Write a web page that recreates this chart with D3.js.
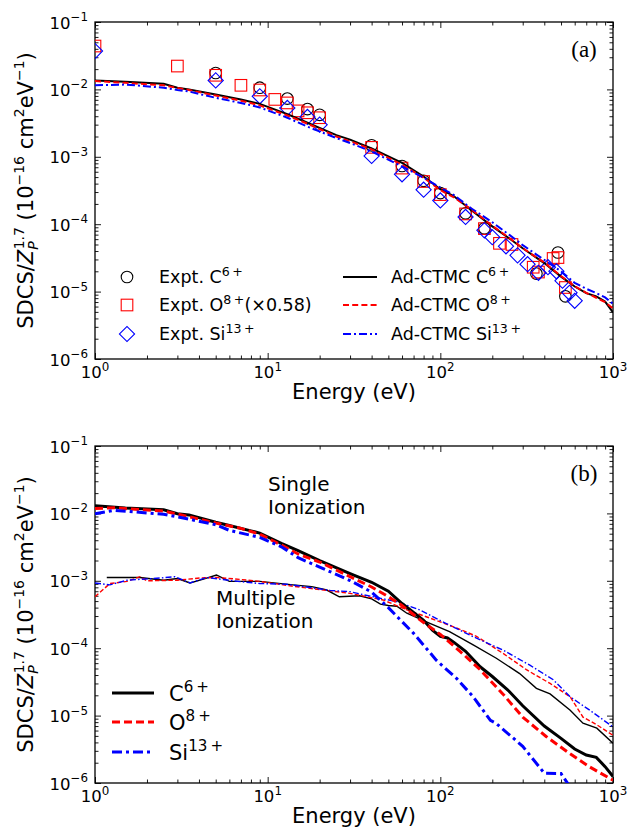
<!DOCTYPE html>
<html>
<head>
<meta charset="utf-8"/>
<title>SDCS</title>
<style>
    body { margin: 0; background: #fff; }
    svg { display: block; font-family: 'DejaVu Sans', sans-serif; }
    .frame { fill: none; stroke: #000; stroke-width: 1.3px; }
    .tick line { stroke: #000; stroke-width: 0.9px; }
    .tick text { display: none; }
    .domain { display: none; }
</style>
<script src="https://cdnjs.cloudflare.com/ajax/libs/d3/7.8.5/d3.min.js"></script>
</head>
<body>
<svg id="chart" width="629" height="834"></svg>
<script>

// ---- experimental points, panel (a) ----
const exptC_E = [5, 9, 13, 17, 20, 40, 60, 80, 100, 140, 180, 360, 480, 530];
const exptC_V = [0.0175, 0.0106, 0.0073, 0.0051, 0.0042, 1.48e-3, 7.3e-4, 4.4e-4, 2.9e-4, 1.45e-4, 8.7e-5, 1.85e-5, 3.8e-5, 8.5e-6];

const exptO_E = [1, 3, 5, 7, 9, 11, 13, 15, 17, 20, 40, 60, 80, 100, 140, 180, 220, 260, 345, 370, 450, 480, 530];
const exptO_V = [0.044, 0.0222, 0.0162, 0.0115, 0.0098, 0.0071, 0.0063, 0.0048, 0.0045, 0.0038, 1.38e-3, 6.8e-4, 4.3e-4, 2.75e-4, 1.42e-4, 8.6e-5, 5.2e-5, 5.0e-5, 2.3e-5, 1.95e-5, 3.1e-5, 3.2e-5, 1.15e-5];

const exptSi_E = [1, 5, 9, 13, 17, 20, 40, 60, 80, 100, 140, 180, 200, 240, 280, 320, 370, 420, 470, 510, 560, 600];
const exptSi_V = [0.037, 0.0136, 0.0079, 0.0053, 0.0039, 0.0030, 1.03e-3, 5.5e-4, 3.25e-4, 2.25e-4, 1.28e-4, 8.1e-5, 6.4e-5, 4.7e-5, 3.45e-5, 2.55e-5, 1.9e-5, 2.3e-5, 2.0e-5, 1.45e-5, 9.6e-6, 7.3e-6];

// ---- Ad-CTMC total, panel (a) ----
const ctmcA_E = [1, 1.5, 2.5, 3, 3.5, 5, 7, 9, 13, 17, 25, 30, 40, 60, 80, 100, 120, 150, 200, 250, 300, 400, 500, 600, 700, 800, 900, 1000];
const ctmcA_C = [0.0136, 0.0130, 0.0121, 0.0106, 0.0100, 0.0084, 0.0071, 0.0061, 0.0043, 0.0032, 0.0021, 0.0018, 1.33e-3, 8.1e-4, 5.1e-4, 3.3e-4, 2.6e-4, 1.64e-4, 9.3e-5, 6.2e-5, 4.4e-5, 2.65e-5, 1.67e-5, 1.19e-5, 9.5e-6, 8.5e-6, 7.1e-6, 4.9e-6];
const ctmcA_O = [0.0133, 0.0125, 0.0115, 0.0105, 0.0098, 0.0081, 0.0068, 0.0058, 0.0041, 0.0031, 0.0020, 0.0017, 1.29e-3, 7.6e-4, 4.9e-4, 3.2e-4, 2.5e-4, 1.68e-4, 9.5e-5, 6.3e-5, 4.4e-5, 2.7e-5, 1.7e-5, 1.2e-5, 9.6e-6, 8.1e-6, 7.0e-6, 5.6e-6];
const ctmcA_Si = [0.0115, 0.0118, 0.0106, 0.0098, 0.0093, 0.0075, 0.0063, 0.0054, 0.0038, 0.0028, 0.0019, 0.0016, 1.2e-3, 7.2e-4, 4.9e-4, 3.5e-4, 2.7e-4, 1.74e-4, 1.07e-4, 7.0e-5, 4.9e-5, 2.95e-5, 2.0e-5, 1.35e-5, 1.1e-5, 9.5e-6, 8.2e-6, 6.6e-6];

// ---- panel (b): single ionization ----
const singleC_E = [1, 1.5, 2.5, 3, 3.5, 5, 6, 8, 9, 12, 15, 20, 30, 40, 50, 60, 70, 80, 90, 100, 110, 120, 140, 170, 200, 250, 300, 400, 500, 600, 700, 800, 900, 1000];
const singleC_V = [0.0130, 0.0120, 0.0113, 0.0099, 0.0095, 0.0074, 0.0066, 0.0055, 0.0051, 0.0036, 0.0028, 0.0020, 1.28e-3, 9.5e-4, 7.0e-4, 4.6e-4, 3.4e-4, 2.6e-4, 1.85e-4, 1.5e-4, 1.42e-4, 1.22e-4, 9.0e-5, 5.3e-5, 3.8e-5, 2.3e-5, 1.4e-5, 7.0e-6, 4.6e-6, 3.2e-6, 2.6e-6, 2.4e-6, 1.75e-6, 1.25e-6];

const singleO_E = [1, 1.3, 2.5, 3, 5, 7, 9, 12, 15, 20, 30, 40, 50, 60, 80, 100, 130, 170, 230, 300, 410, 560, 730, 1000];
const singleO_V = [0.0118, 0.0121, 0.0108, 0.0098, 0.0072, 0.0060, 0.0049, 0.0034, 0.0025, 0.0019, 1.15e-3, 8.1e-4, 5.8e-4, 4.3e-4, 2.4e-4, 1.6e-4, 9.0e-5, 4.8e-5, 2.1e-5, 9.5e-6, 4.9e-6, 2.75e-6, 1.74e-6, 1.1e-6];

const singleSi_E = [1, 1.3, 2.5, 3, 5, 6, 9, 12, 15, 20, 30, 40, 50, 70, 95, 125, 155, 195, 210, 300, 400, 500, 560, 600];
const singleSi_V = [0.0099, 0.0111, 0.0097, 0.0089, 0.0068, 0.0056, 0.0044, 0.0032, 0.0022, 0.0016, 1.01e-3, 6.8e-4, 4.0e-4, 1.66e-4, 6.6e-5, 3.5e-5, 1.9e-5, 8.5e-6, 7.7e-6, 3.5e-6, 1.4e-6, 1.38e-6, 9.0e-7, 7e-7];

// ---- panel (b): multiple ionization ----
const multiC_E = [1.17, 1.82, 2.5, 3, 3.55, 4.2, 5.05, 6, 9, 14, 18, 22, 26, 34, 40, 45, 50, 56, 64, 87, 113, 155, 211, 288, 360, 432, 565, 670, 806, 1000];
const multiC_V = [1.12e-3, 1.12e-3, 1.02e-3, 1.08e-3, 9.3e-4, 1.05e-3, 1.22e-3, 9.8e-4, 9.8e-4, 8.7e-4, 8.2e-4, 7.3e-4, 5.8e-4, 6.0e-4, 5.4e-4, 4.5e-4, 4.3e-4, 4.2e-4, 3.3e-4, 2.34e-4, 1.76e-4, 1.12e-4, 7.1e-5, 4.2e-5, 2.54e-5, 2.1e-5, 1.2e-5, 7.7e-6, 6.5e-6, 3.9e-6];

const multiO_E = [1.0, 1.22, 1.53, 1.82, 2.0, 3, 4.06, 5.06, 6.9, 9, 14, 22, 30, 46.6, 64, 87, 124, 162, 232, 315, 432, 565, 670, 806, 1000];
const multiO_V = [5.8e-4, 9.1e-4, 9.8e-4, 1.15e-3, 1.0e-3, 1.02e-3, 1.1e-3, 1.12e-3, 1.05e-3, 9.8e-4, 8.3e-4, 7.2e-4, 6.5e-4, 5.2e-4, 3.7e-4, 2.8e-4, 2.0e-4, 1.5e-4, 8.3e-5, 4.8e-5, 3.0e-5, 1.9e-5, 9.5e-6, 7.3e-6, 5.1e-6];

const multiSi_E = [1.0, 1.22, 1.53, 2.38, 2.9, 3.55, 4.43, 6.3, 9, 12.8, 16.8, 23, 30, 36, 56, 76, 109, 155, 232, 330, 451, 565, 734, 1000];
const multiSi_V = [9.3e-4, 8.7e-4, 1.02e-3, 1.1e-3, 1.15e-3, 9.3e-4, 1.12e-3, 1.0e-3, 9.1e-4, 8.9e-4, 8.1e-4, 7.2e-4, 6.9e-4, 6.2e-4, 4.9e-4, 3.7e-4, 2.3e-4, 1.48e-4, 9.3e-5, 5.6e-5, 3.4e-5, 1.9e-5, 1.2e-5, 6.8e-6];

const xMajor = [1, 10, 100, 1000];
const xMajorExp = ['0', '1', '2', '3'];
const yMajor = [1e-1, 1e-2, 1e-3, 1e-4, 1e-5, 1e-6];
const yMajorExp = ['\u22121', '\u22122', '\u22123', '\u22124', '\u22125', '\u22126'];

// ------------------------------------------------------------

const svg = d3.select('#chart');
const left = 95, right = 613;
const panels = [{ top: 22, bottom: 359, tag: '(a)' }, { top: 446, bottom: 783, tag: '(b)' }];

const x = d3.scaleLog().domain([1, 1000]).range([left, right]);

const pairs = (E, V) => E.map((e, i) => [e, V[i]]);

// minor tick values
const xMinor = [];
[1, 10, 100].forEach(d => { for (let k = 2; k <= 9; k++) xMinor.push(d * k); });
const yMinor = [];
[1e-6, 1e-5, 1e-4, 1e-3, 1e-2].forEach(d => { for (let k = 2; k <= 9; k++) yMinor.push(d * k); });

const dashed = '6,3.2';
const dashdot = '8,3,2,3';
const dashedThin = '4.5,2.2';
const dashdotThin = '6,2.2,1.5,2.2';

function powLabel(g, xp, yp, exp, anchor, size) {
    const t = g.append('text')
        .attr('x', xp).attr('y', yp)
        .attr('text-anchor', anchor)
        .attr('font-size', size);
    t.append('tspan').text('10');
    t.append('tspan').attr('dy', -size * 0.45).attr('font-size', size * 0.72).text(exp);
    return t;
}

function drawPanel(p, i) {
    const y = d3.scaleLog().domain([1e-6, 1e-1]).range([p.bottom, p.top]);
    const g = svg.append('g');
    const clipId = 'clip' + i;
    svg.append('clipPath').attr('id', clipId)
        .append('rect').attr('x', left).attr('y', p.top)
        .attr('width', right - left).attr('height', p.bottom - p.top);

    // ticks on all sides, pointing in
    g.append('g').attr('transform', `translate(0,${p.bottom})`)
        .call(d3.axisBottom(x).tickValues(xMajor).tickSize(-6).tickFormat(''));
    g.append('g').attr('transform', `translate(0,${p.bottom})`)
        .call(d3.axisBottom(x).tickValues(xMinor).tickSize(-3.5).tickFormat(''));
    g.append('g').attr('transform', `translate(0,${p.top})`)
        .call(d3.axisTop(x).tickValues(xMajor).tickSize(-6).tickFormat(''));
    g.append('g').attr('transform', `translate(0,${p.top})`)
        .call(d3.axisTop(x).tickValues(xMinor).tickSize(-3.5).tickFormat(''));
    g.append('g').attr('transform', `translate(${left},0)`)
        .call(d3.axisLeft(y).tickValues(yMajor).tickSize(-6).tickFormat(''));
    g.append('g').attr('transform', `translate(${left},0)`)
        .call(d3.axisLeft(y).tickValues(yMinor).tickSize(-3.5).tickFormat(''));
    g.append('g').attr('transform', `translate(${right},0)`)
        .call(d3.axisRight(y).tickValues(yMajor).tickSize(-6).tickFormat(''));
    g.append('g').attr('transform', `translate(${right},0)`)
        .call(d3.axisRight(y).tickValues(yMinor).tickSize(-3.5).tickFormat(''));

    // tick labels
    xMajor.forEach((v, k) => powLabel(g, x(v), p.bottom + 19, xMajorExp[k], 'middle', 16.5));
    yMajor.forEach((v, k) => powLabel(g, 88, y(v) + 6.5, yMajorExp[k], 'end', 16.5));

    // axis labels
    g.append('text')
        .attr('x', (left + right) / 2).attr('y', p.bottom + 40)
        .attr('text-anchor', 'middle').attr('font-size', 21)
        .text('Energy (eV)');

    const yl = g.append('text')
        .attr('transform', `translate(33,${(p.top + p.bottom) / 2}) rotate(-90)`)
        .attr('text-anchor', 'middle').attr('font-size', 21);
    yl.append('tspan').text('SDCS/');
    yl.append('tspan').attr('font-style', 'italic').text('Z');
    yl.append('tspan').attr('font-style', 'italic').attr('font-size', 14).attr('dy', 5).text('P');
    yl.append('tspan').attr('font-size', 14).attr('dx', -8).attr('dy', -14).text('1.7');
    yl.append('tspan').attr('dy', 9).text(' (10');
    yl.append('tspan').attr('font-size', 14).attr('dy', -9).text('\u221216');
    yl.append('tspan').attr('dy', 9).text(' cm');
    yl.append('tspan').attr('font-size', 14).attr('dy', -9).text('2');
    yl.append('tspan').attr('dy', 9).text('eV');
    yl.append('tspan').attr('font-size', 14).attr('dy', -9).text('\u22121');
    yl.append('tspan').attr('dy', 9).text(')');

    // panel tag
    g.append('text')
        .attr('x', 584).attr('y', p.top + 35)
        .attr('text-anchor', 'middle')
        .attr('font-family', "'Liberation Serif', 'Times New Roman', serif")
        .attr('font-size', 23).text(p.tag);

    g.append('rect').attr('class', 'frame')
        .attr('x', left).attr('y', p.top)
        .attr('width', right - left).attr('height', p.bottom - p.top);

    return { g, y, clipId };
}

// ---------------- panel (a) ----------------
const A = drawPanel(panels[0], 0);
const lineA = d3.line().x(d => x(d[0])).y(d => A.y(d[1]));
const plotA = A.g.append('g').attr('clip-path', 'url(#clip0)');

plotA.selectAll('circle.c').data(pairs(exptC_E, exptC_V)).join('circle')
    .attr('cx', d => x(d[0])).attr('cy', d => A.y(d[1])).attr('r', 5.8)
    .attr('fill', 'none').attr('stroke', '#000').attr('stroke-width', 1.1);

plotA.selectAll('rect.o').data(pairs(exptO_E, exptO_V)).join('rect')
    .attr('x', d => x(d[0]) - 5.8).attr('y', d => A.y(d[1]) - 5.8)
    .attr('width', 11.6).attr('height', 11.6)
    .attr('fill', 'none').attr('stroke', '#f00').attr('stroke-width', 1.1);

plotA.selectAll('path.si').data(pairs(exptSi_E, exptSi_V)).join('path')
    .attr('d', d3.symbol().type(d3.symbolSquare).size(115))
    .attr('transform', d => `translate(${x(d[0])},${A.y(d[1])}) rotate(45)`)
    .attr('fill', 'none').attr('stroke', '#00f').attr('stroke-width', 1.1);

plotA.append('path').datum(pairs(ctmcA_E, ctmcA_C))
    .attr('d', lineA).attr('fill', 'none').attr('stroke', '#000').attr('stroke-width', 2);
plotA.append('path').datum(pairs(ctmcA_E, ctmcA_O))
    .attr('d', lineA).attr('fill', 'none').attr('stroke', '#f00').attr('stroke-width', 2)
    .attr('stroke-dasharray', dashed);
plotA.append('path').datum(pairs(ctmcA_E, ctmcA_Si))
    .attr('d', lineA).attr('fill', 'none').attr('stroke', '#00f').attr('stroke-width', 2)
    .attr('stroke-dasharray', dashdot);

// legend (a)
const legA = A.g.append('g');
const legRows = [277, 305, 334];
legA.append('circle').attr('cx', 127).attr('cy', legRows[0]).attr('r', 5.8)
    .attr('fill', 'none').attr('stroke', '#000').attr('stroke-width', 1.1);
legA.append('rect').attr('x', 121.2).attr('y', legRows[1] - 5.8).attr('width', 11.6).attr('height', 11.6)
    .attr('fill', 'none').attr('stroke', '#f00').attr('stroke-width', 1.1);
legA.append('path').attr('d', d3.symbol().type(d3.symbolSquare).size(115))
    .attr('transform', `translate(127,${legRows[2]}) rotate(45)`)
    .attr('fill', 'none').attr('stroke', '#00f').attr('stroke-width', 1.1);

function legText(g, xp, yp, pre, sup, post, size) {
    const t = g.append('text').attr('x', xp).attr('y', yp + size * 0.36).attr('font-size', size);
    t.append('tspan').text(pre);
    t.append('tspan').attr('font-size', size * 0.72).attr('dy', -size * 0.42).text(sup);
    if (post) t.append('tspan').attr('dy', size * 0.42).text(post);
}
legText(legA, 159, legRows[0], 'Expt. C', '6\u2009+', null, 17.5);
legText(legA, 159, legRows[1], 'Expt. O', '8\u2009+', '(\u00d70.58)', 17.5);
legText(legA, 159, legRows[2], 'Expt. Si', '13\u2009+', null, 17.5);

const legLinesA = [['#000', null], ['#f00', dashed], ['#00f', dashdot]];
legLinesA.forEach((s, k) => {
    legA.append('line').attr('x1', 343).attr('x2', 377).attr('y1', legRows[k]).attr('y2', legRows[k])
        .attr('stroke', s[0]).attr('stroke-width', 2).attr('stroke-dasharray', s[1]);
});
legText(legA, 391, legRows[0], 'Ad-CTMC C', '6\u2009+', null, 17.5);
legText(legA, 391, legRows[1], 'Ad-CTMC O', '8\u2009+', null, 17.5);
legText(legA, 391, legRows[2], 'Ad-CTMC Si', '13\u2009+', null, 17.5);

// ---------------- panel (b) ----------------
const B = drawPanel(panels[1], 1);
const lineB = d3.line().x(d => x(d[0])).y(d => B.y(d[1]));
const plotB = B.g.append('g').attr('clip-path', 'url(#clip1)');

const seriesB = [
    [multiC_E, multiC_V, '#000', null, 1.4],
    [multiO_E, multiO_V, '#f00', dashedThin, 1.4],
    [multiSi_E, multiSi_V, '#00f', dashdotThin, 1.4],
    [singleC_E, singleC_V, '#000', null, 3],
    [singleO_E, singleO_V, '#f00', '8,4', 3],
    [singleSi_E, singleSi_V, '#00f', '10,4,3,4', 3]
];
seriesB.forEach(s => {
    plotB.append('path').datum(pairs(s[0], s[1]))
        .attr('d', lineB).attr('fill', 'none')
        .attr('stroke', s[2]).attr('stroke-width', s[4])
        .attr('stroke-dasharray', s[3]);
});

B.g.append('text').attr('x', 268).attr('y', 491).attr('font-size', 20).text('Single');
B.g.append('text').attr('x', 268).attr('y', 514).attr('font-size', 20).text('Ionization');
B.g.append('text').attr('x', 216).attr('y', 605).attr('font-size', 20).text('Multiple');
B.g.append('text').attr('x', 216).attr('y', 628).attr('font-size', 20).text('Ionization');

const legB = B.g.append('g');
const legRowsB = [693, 722, 752];
[['#000', null], ['#f00', '8,4'], ['#00f', '10,4,3,4']].forEach((s, k) => {
    legB.append('line').attr('x1', 112).attr('x2', 154).attr('y1', legRowsB[k]).attr('y2', legRowsB[k])
        .attr('stroke', s[0]).attr('stroke-width', 3).attr('stroke-dasharray', s[1]);
});
legText(legB, 169, legRowsB[0], 'C', '6\u2009+', null, 21);
legText(legB, 169, legRowsB[1], 'O', '8\u2009+', null, 21);
legText(legB, 169, legRowsB[2], 'Si', '13\u2009+', null, 21);

</script>
</body>
</html>
